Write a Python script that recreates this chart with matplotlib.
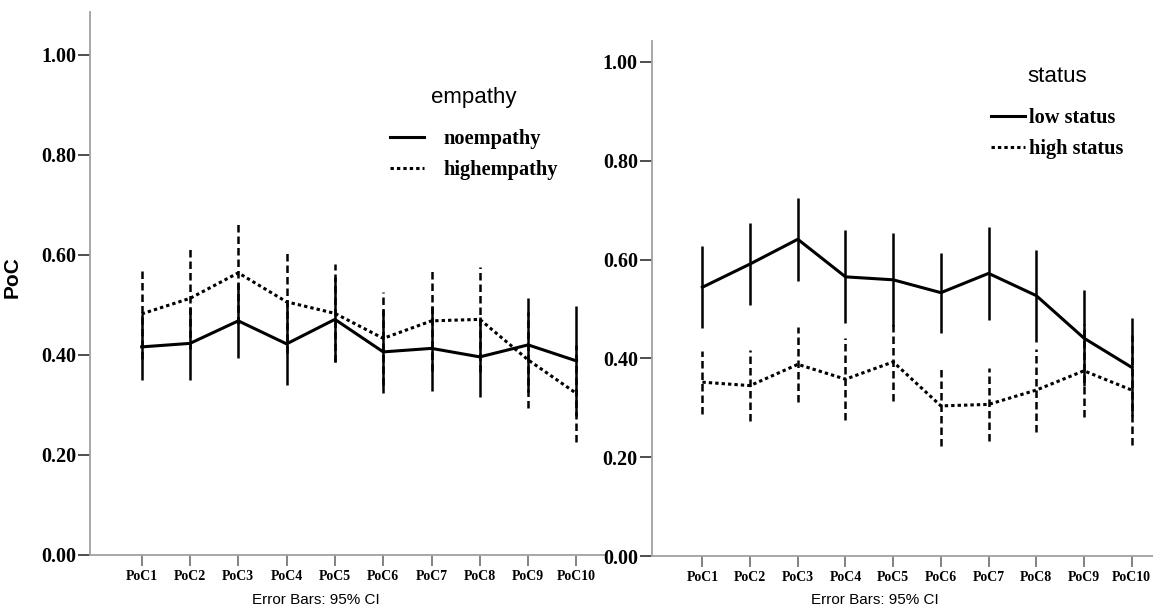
import matplotlib
matplotlib.use("Agg")
import matplotlib.pyplot as plt
import numpy as np

# ---------------- data ----------------
categories = ["PoC1", "PoC2", "PoC3", "PoC4", "PoC5", "PoC6", "PoC7", "PoC8", "PoC9", "PoC10"]

# left panel: empathy
noempathy_mean = [0.416, 0.423, 0.468, 0.422, 0.471, 0.406, 0.413, 0.396, 0.420, 0.388]
noempathy_ci = [0.066, 0.073, 0.075, 0.082, 0.085, 0.083, 0.085, 0.080, 0.094, 0.110]
highempathy_mean = [0.482, 0.513, 0.564, 0.506, 0.483, 0.433, 0.468, 0.471, 0.390, 0.323]
highempathy_ci = [0.091, 0.101, 0.102, 0.102, 0.098, 0.093, 0.101, 0.105, 0.096, 0.097]

# right panel: status
lowstatus_mean = [0.544, 0.591, 0.641, 0.565, 0.559, 0.533, 0.572, 0.527, 0.441, 0.382]
lowstatus_ci = [0.083, 0.083, 0.084, 0.094, 0.094, 0.081, 0.094, 0.093, 0.097, 0.099]
highstatus_mean = [0.352, 0.345, 0.388, 0.358, 0.393, 0.304, 0.307, 0.336, 0.375, 0.336]
highstatus_ci = [0.064, 0.072, 0.076, 0.083, 0.079, 0.081, 0.074, 0.084, 0.094, 0.111]

yticks = [0.0, 0.2, 0.4, 0.6, 0.8, 1.0]
ytick_labels = ["0.00", "0.20", "0.40", "0.60", "0.80", "1.00"]

W, H = 1153, 612
fig = plt.figure(figsize=(W / 100, H / 100), dpi=100)

SERIF_B = dict(family=["Liberation Serif", "DejaVu Serif"], weight="bold")
NARROW = ["Liberation Sans Narrow", "Liberation Sans", "DejaVu Sans"]

DOT = (0, (1.1, 1.0))
DASH = (0, (3.0, 1.6))


def panel(rect, ylim_top, xlim, s1, s2, labels, title, leg_anchor, textpad):
    ax = fig.add_axes(rect)
    x = np.arange(1, len(categories) + 1)
    m1, c1 = s1
    m2, c2 = s2
    # error bars
    e2 = ax.errorbar(x, m2, yerr=c2, fmt="none", ecolor="black", elinewidth=1.8, capsize=0, zorder=2)
    for lc in e2[2]:
        lc.set_linestyle(DASH)
    ax.errorbar(x, m1, yerr=c1, fmt="none", ecolor="black", elinewidth=1.8, capsize=0, zorder=3)
    l2, = ax.plot(x, m2, color="black", lw=2.2, linestyle=DOT, label=labels[1], zorder=2)
    l1, = ax.plot(x, m1, color="black", lw=2.2, linestyle="-", label=labels[0], zorder=3)

    ax.set_xlim(*xlim)
    ax.set_ylim(0, ylim_top)
    ax.set_xticks(x)
    ax.set_xticklabels(categories, fontsize=10, **SERIF_B)
    ax.set_yticks(yticks)
    ax.set_yticklabels(ytick_labels, fontsize=14.5, **SERIF_B)
    for s in ["top", "right"]:
        ax.spines[s].set_visible(False)
    for s in ["left", "bottom"]:
        ax.spines[s].set_color("#a0a0a0")
        ax.spines[s].set_linewidth(1.3)
    ax.tick_params(axis="y", length=9, width=1.3, color="#404040", pad=1)
    ax.tick_params(axis="x", length=8, width=1.1, color="#606060", pad=3)

    leg = ax.legend(handles=[l1, l2], title=title, loc="upper left",
                    bbox_to_anchor=leg_anchor, bbox_transform=fig.transFigure,
                    frameon=False, borderpad=0, borderaxespad=0,
                    handlelength=1.65, handletextpad=textpad, labelspacing=0.55,
                    prop=dict(size=14.7, **SERIF_B),
                    title_fontproperties=dict(family=["Liberation Sans", "DejaVu Sans"], size=16))
    leg._legend_box.sep = 15
    return ax


axL = panel([90.3 / W, 1 - 555 / H, (603.8 - 90.3) / W, (555 - 11.7) / H], 1.086, (-0.064, 10.567),
            (noempathy_mean, noempathy_ci), (highempathy_mean, highempathy_ci),
            ["noempathy", "highempathy"], "empathy", (390 / W, 1 - 87 / H), 0.95)
axR = panel([651.7 / W, 1 - 556.2 / H, (W - 651.7) / W, (556.2 - 41) / H], 1.042, (-0.063, 10.447),
            (lowstatus_mean, lowstatus_ci), (highstatus_mean, highstatus_ci),
            ["low status", "high status"], "status", (991 / W, 1 - 66 / H), 0.2)

axL.set_ylabel("PoC", fontsize=15, fontweight="bold", family=["Liberation Sans", "DejaVu Sans"])
axL.yaxis.set_label_coords(22 / W, 1 - 277 / H, transform=fig.transFigure)

fig.text(315.5 / W, 1 - 600 / H, "Error Bars: 95% CI", ha="center", va="center", fontsize=11, family=NARROW)
fig.text(875 / W, 1 - 600 / H, "Error Bars: 95% CI", ha="center", va="center", fontsize=11, family=NARROW)

fig.savefig("out.png", dpi=100)
